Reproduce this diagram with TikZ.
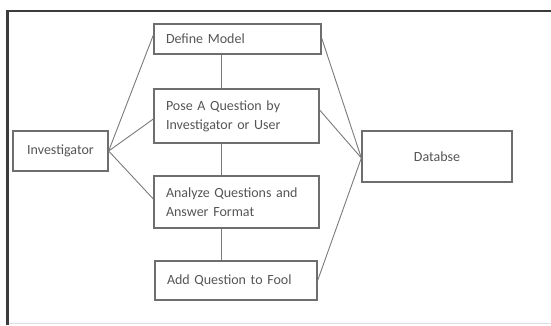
\documentclass[tikz,border=0pt]{standalone}
\usepackage{fontspec}
\setmainfont{Carlito}
\usepackage{xcolor}
\usetikzlibrary{positioning, calc}
\definecolor{frameB}{HTML}{3c3c3c}
\definecolor{boxB}{HTML}{6e6e6e}
\definecolor{txt}{HTML}{555555}
\definecolor{wire}{HTML}{7a7a7a}

\begin{document}
\begin{tikzpicture}[x=1pt, y=-1pt, step box/.style={draw=boxB, line width=1.3pt, align=left, inner sep=0pt, font=\fontsize{14}{19}\selectfont\color{txt}},role/.style={draw=boxB, line width=1.3pt, align=center, inner sep=0pt, font=\fontsize{14}{19}\selectfont\color{txt}},wire/.style={draw=wire, line width=0.9pt}]
\useasboundingbox (0,0) rectangle (551,325);
\draw[frameB, line width=2.6pt] (7.5,325) -- (7.5,11) -- (551,11);
\draw[gray!25, line width=0.8pt] (9,323) -- (551,323);
\node[step box, minimum width=167pt, minimum height=30pt, text width=143pt] (define) at (237.5,39) {Define Model};
\node[step box, minimum width=165pt, minimum height=54pt, text width=141pt] (pose) at (236.5,116) {Pose A Question by\\Investigator or User};
\node[step box, minimum width=165pt, minimum height=52pt, text width=141pt] (analyze) at (236.5,202) {Analyze Questions and\\Answer Format};
\node[step box, minimum width=162pt, minimum height=39pt, text width=138pt] (addq) at (236,280.5) {Add Question to Fool};
\node[role, minimum width=95pt, minimum height=40pt] (invest) at (60.5,151) {Investigator};
\node[role, minimum width=150pt, minimum height=51pt] (dbase) at (437,156.5) {Databse};
\coordinate (spine) at (221,0);
\draw[wire] (define.south -| spine) -- (pose.north -| spine);
\draw[wire] (pose.south -| spine) -- (analyze.north -| spine);
\draw[wire] (analyze.south -| spine) -- (addq.north -| spine);
\draw[wire] (invest.east) -- ([yshift=4pt]define.west);
\draw[wire] (invest.east) -- ([yshift=-3pt]pose.west);
\draw[wire] (invest.east) -- ([yshift=3pt]analyze.west);
\draw[wire] ([yshift=1pt]define.east) -- ([yshift=-1.5pt]dbase.west);
\draw[wire] ([yshift=6pt]pose.east) -- ([yshift=-1.5pt]dbase.west);
\draw[wire] (addq.east) -- ([yshift=-1.5pt]dbase.west);
\end{tikzpicture}
\end{document}
